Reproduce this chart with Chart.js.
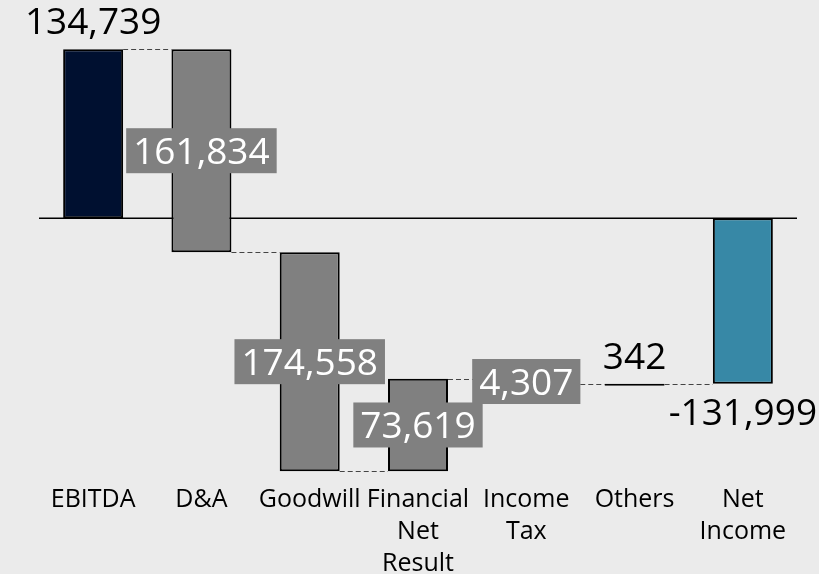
<!DOCTYPE html>
<html>
<head>
<meta charset="utf-8">
<script src="https://cdn.jsdelivr.net/npm/chart.js@4/dist/chart.umd.min.js"></script>
<style>
  html, body { margin:0; padding:0; background:#ebebeb; }
  canvas { display:block; }
</style>
</head>
<body>
<canvas id="chart" width="819" height="574"></canvas>
<script>
const categories = [["EBITDA"], ["D&A"], ["Goodwill"], ["Financial","Net","Result"], ["Income","Tax"], ["Others"], ["Net","Income"]];
// change per step; first and last are totals
const changes = [134739, -161834, -174558, 73619, -4307, 342, -131999];
const isTotal = [true, false, false, false, false, false, true];

// build floating bars [start, end]
let running = 0;
const ranges = changes.map((v, i) => {
  if (isTotal[i]) { running = v; return [0, v]; }
  const start = running;
  running = start + v;
  return [start, running];
});

const FONT = "'Open Sans', 'Noto Sans', sans-serif";
const labelMode = ["above", "box", "box", "box", "box", "above", "below"];

function fmt(v, i){
  const n = isTotal[i] ? v : Math.abs(v);
  return n.toLocaleString("en-US");
}

const zeroLine = {
  id: "zeroLine",
  beforeDatasetsDraw(chart){
    const {ctx, chartArea, scales} = chart;
    const y = scales.y.getPixelForValue(0);
    ctx.save();
    ctx.strokeStyle = "#000";
    ctx.lineWidth = 1.5;
    ctx.beginPath();
    ctx.moveTo(chartArea.left, y);
    ctx.lineTo(chartArea.right, y);
    ctx.stroke();
    ctx.restore();
  }
};

const connectors = {
  id: "connectors",
  afterDatasetsDraw(chart){
    const {ctx, scales} = chart;
    const meta = chart.getDatasetMeta(0);
    ctx.save();
    ctx.strokeStyle = "#444";
    ctx.lineWidth = 1;
    ctx.setLineDash([5, 3]);
    for (let i = 0; i < ranges.length - 1; i++){
      const a = meta.data[i], b = meta.data[i+1];
      const y = Math.round(scales.y.getPixelForValue(ranges[i][1])) + 0.5;
      ctx.beginPath();
      ctx.moveTo(a.x + a.width/2, y);
      ctx.lineTo(b.x - b.width/2, y);
      ctx.stroke();
    }
    ctx.restore();

    // value labels
    ctx.save();
    ctx.font = "37px " + FONT;
    ctx.textAlign = "center";
    ctx.textBaseline = "alphabetic";
    meta.data.forEach((bar, i) => {
      const yS = scales.y.getPixelForValue(ranges[i][0]);
      const yE = scales.y.getPixelForValue(ranges[i][1]);
      const top = Math.min(yS, yE), bottom = Math.max(yS, yE);
      const txt = fmt(changes[i], i);
      const mode = labelMode[i];
      if (mode === "box"){
        const w = ctx.measureText(txt).width + 14;
        const h = 45;
        const cy = (top + bottom) / 2;
        ctx.fillStyle = "#808080";
        ctx.fillRect(bar.x - w/2, cy - h/2, w, h);
        ctx.fillStyle = "#fff";
        ctx.fillText(txt, bar.x, cy + 13.5);
      } else if (mode === "above"){
        ctx.fillStyle = "#000";
        ctx.fillText(txt, bar.x, top - 15);
      } else {
        ctx.fillStyle = "#000";
        ctx.fillText(txt, bar.x, bottom + 41);
      }
    });
    ctx.restore();
  }
};

new Chart(document.getElementById("chart").getContext("2d"), {
  type: "bar",
  data: {
    labels: categories,
    datasets: [{
      data: ranges,
      backgroundColor: ["#001030", "#808080", "#808080", "#808080", "#808080", "#000000", "#3788a6"],
      borderColor: "#000",
      borderWidth: 2,
      borderSkipped: false,
      minBarLength: 2,
      barPercentage: 0.554,
      categoryPercentage: 1
    }]
  },
  options: {
    responsive: false,
    animation: false,
    layout: { padding: { left: 39, right: 22, top: 10, bottom: 0 } },
    plugins: { legend: { display: false }, tooltip: { enabled: false } },
    scales: {
      x: {
        grid: { display: false, drawTicks: false },
        border: { display: false },
        ticks: {
          color: "#000",
          padding: 2,
          maxRotation: 0,
          autoSkip: false,
          font: { family: FONT, size: 25, lineHeight: 1.28 }
        },
        afterFit(scale){ scale.height = 92; }
      },
      y: {
        display: false,
        min: -210300,
        max: 166000
      }
    }
  },
  plugins: [zeroLine, connectors]
});
</script>
</body>
</html>
